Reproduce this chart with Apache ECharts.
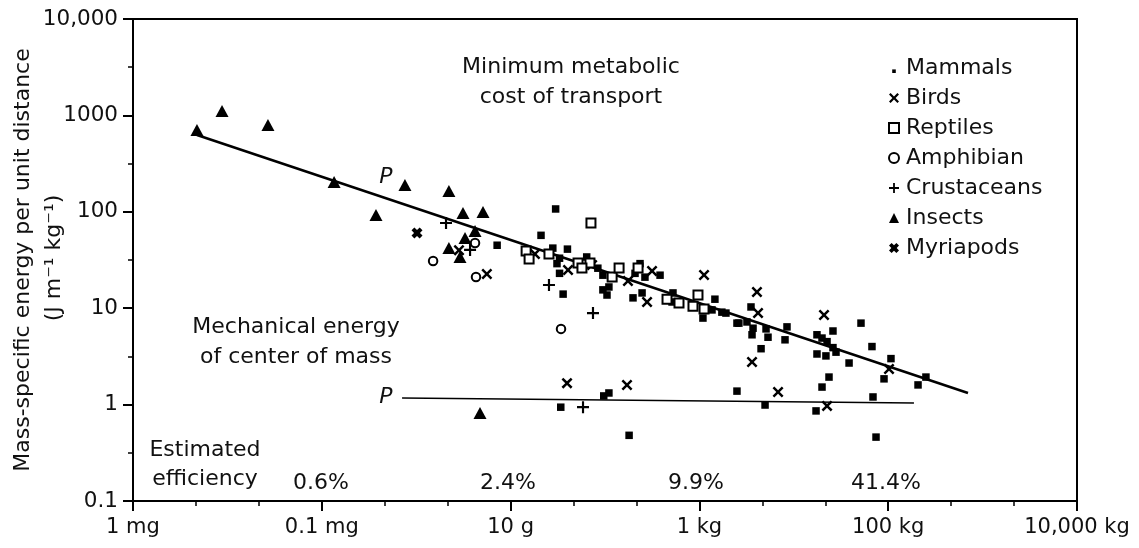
<!DOCTYPE html>
<html>
<head>
<meta charset="utf-8">
<script src="https://cdn.jsdelivr.net/npm/echarts@6/dist/echarts.min.js"></script>
<style>
  html, body { margin: 0; padding: 0; background: #fff; }
  #chart { width: 1139px; height: 548px; }
</style>
</head>
<body>
<div id="chart"></div>
<script>
// ---- DATA: [body mass in grams, energy in J m^-1 kg^-1] ----
const mammals = [
  [7.2,45],[30,107],[21,57],[28,42],[40,41],[33,33],[31,29],[33,23],[64,34],[84,26],
  [95,22],[95,15.5],[110,16.6],[105,13.7],[36,14],[208,23],[265,21],[235,29],[383,22],[247,14.4],
  [198,12.8],[513,11.6],[525,14.4],[1460,12.4],[1090,7.9],[1360,9.6],[1730,9.1],[1910,8.9],[2500,7.0],[3520,10.3],
  [2620,7.0],[3190,7.2],[3700,6.2],[3610,5.3],[5080,6.1],[5330,5.0],[8470,6.4],[8070,4.7],[4500,3.8],[17600,5.3],
  [19900,4.9],[22500,4.5],[26000,3.9],[17600,3.35],[21900,3.2],[26000,5.8],[51500,7.0],[28000,3.5],[67300,4.0],[38500,2.7],
  [107000,3.0],[90300,1.85],[251000,1.93],[207000,1.6],[69000,1.2],[74300,0.46],[23600,1.93],[19900,1.52],[17200,0.86],[4960,0.99],
  [2500,1.38],[180,0.48],[97,1.23],[110,1.32],[34,0.94]
];
const birds = [
  [2.84,40],[5.6,22.6],[18.1,36.5],[40.6,24.9],[73,28],[175,19.1],[315,24.3],[279,11.6],[1120,22.1],[4070,14.7],
  [4180,8.9],[3610,2.77],[20900,8.5],[102000,2.34],[39.6,1.67],[171,1.6],[6810,1.35],[22500,0.97]
];
const reptiles = [
  [71,76.5],[14.6,39.2],[15.7,32.4],[25.5,36.5],[51.8,29.4],[69.3,29.4],[57,26.1],[119,21.1],[141,26.1],[224,26.1],
  [454,12.4],[608,11.3],[966,13.7],[855,10.5],[1120,9.8]
];
const amphibians = [[1.51,30.9],[4.2,47.5],[4.3,21.1],[34.2,6.1]];
const crustaceans = [[2.07,76.5],[3.72,40.2],[25.5,17.4],[74.6,8.9],[58.5,0.94]];
const insects = [
  [0.00476,706],[0.00877,1111],[0.0269,795],[0.135,204],[0.375,92.7],[0.76,190],[2.22,164],[3.13,97.2],
  [5.1,99.5],[4.2,63.2],[3.29,53.5],[2.22,42.1],[2.91,34.0],[4.74,0.82]
];
const myriapods = [[1.02,60.3]];
const costLine = [[0.00476,627],[700000,1.32]];
const mechLine = [[0.708,1.17],[187500,1.04]];

const xTickLabels = ['1 mg','0.1 mg','10 g','1 kg','100 kg','10,000 kg'];
const yTickLabels = ['0.1','1','10','100','1000','10,000'];
const efficiencies = ['0.6%','2.4%','9.9%','41.4%'];

// ---- helpers ----
const FONT = '"DejaVu Sans", "Liberation Sans", sans-serif';
const INK = '#000';
const toXY = d => [Math.log10(d[0] * 1000), Math.log10(d[1])]; // x: log10(mg), y: log10(E)

const birdPath = 'path://M0,1.6L1.6,0L5,3.4L8.4,0L10,1.6L6.6,5L10,8.4L8.4,10L5,6.6L1.6,10L0,8.4L3.4,5Z';
const myriaPath = 'path://M0,2.6L2.6,0L5,2.3L7.4,0L10,2.6L7.7,5L10,7.4L7.4,10L5,7.7L2.6,10L0,7.4L2.3,5Z';
const plusPath = 'path://M4.1,0L5.9,0L5.9,4.1L10,4.1L10,5.9L5.9,5.9L5.9,10L4.1,10L4.1,5.9L0,5.9L0,4.1L4.1,4.1Z';
const dotIcon = 'path://M0,0M10,10M3.2,6.4L6.8,6.4L6.8,10L3.2,10Z';

const chart = echarts.init(document.getElementById('chart'), null, { renderer: 'canvas' });

function scatter(name, data, symbol, size, style) {
  return {
    name, type: 'scatter', data: data.map(toXY), symbol, symbolSize: size,
    itemStyle: Object.assign({ color: INK, opacity: 1 }, style || {}),
    emphasis: { disabled: true }, z: 3
  };
}

const texts = [];
function addText(text, x, y, size, extra) {
  texts.push(Object.assign({
    type: 'text', x, y, silent: true,
    style: { text, font: (extra && extra.italic ? 'italic ' : '') + size + 'px ' + FONT, fill: '#111',
             align: 'center', verticalAlign: 'middle', textAlign: 'center', textVerticalAlign: 'middle' }
  }, extra && extra.rotation ? { rotation: extra.rotation } : {}));
}
addText('Minimum metabolic', 571, 67, 22);
addText('cost of transport', 571, 97, 22);
addText('Mechanical energy', 296, 327, 22);
addText('of center of mass', 296, 357, 22);
addText('Estimated', 205, 450, 22);
addText('efficiency', 205, 479, 22);
const effX = [321, 508, 696, 886];
efficiencies.forEach((t, i) => addText(t, effX[i], 483, 22));
addText('P', 386, 177, 22, { italic: true });
addText('P', 386, 397, 22, { italic: true });
addText('Mass-specific energy per unit distance', 23, 260, 22, { rotation: Math.PI / 2 });
addText('(J m\u207B\u00B9 kg\u207B\u00B9)', 54, 258, 22, { rotation: Math.PI / 2 });

const option = {
  animation: false,
  backgroundColor: '#fff',
  textStyle: { fontFamily: FONT, color: '#111' },
  grid: { left: 133, right: 62, top: 19, bottom: 47, show: true, borderColor: INK, borderWidth: 2, backgroundColor: 'transparent' },
  xAxis: {
    type: 'value', min: 0, max: 10, interval: 2,
    axisLine: { show: true, onZero: false, lineStyle: { color: INK, width: 2 } },
    axisTick: { show: true, length: 10, lineStyle: { color: INK, width: 2 } },
    minorTick: { show: true, splitNumber: 3, length: 5, lineStyle: { color: INK, width: 1.5 } },
    splitLine: { show: false }, minorSplitLine: { show: false },
    axisLabel: { fontSize: 21, fontFamily: FONT, color: '#111', margin: 16, showMinLabel: true, showMaxLabel: true,
                 formatter: v => xTickLabels[Math.round(v / 2)] }
  },
  yAxis: {
    type: 'value', min: -1, max: 4, interval: 1,
    axisLine: { show: true, onZero: false, lineStyle: { color: INK, width: 2 } },
    axisTick: { show: true, length: 10, lineStyle: { color: INK, width: 2 } },
    minorTick: { show: true, splitNumber: 2, length: 5, lineStyle: { color: INK, width: 1.5 } },
    splitLine: { show: false }, minorSplitLine: { show: false },
    axisLabel: { fontSize: 21.5, fontFamily: FONT, color: '#111', margin: 15, showMinLabel: true, showMaxLabel: true,
                 formatter: v => yTickLabels[Math.round(v) + 1] }
  },
  legend: {
    orient: 'vertical', left: 883, top: 48, itemWidth: 10, itemHeight: 10, itemGap: 0,
    textStyle: { fontSize: 22, fontFamily: FONT, color: '#111', lineHeight: 30, padding: [0, 0, 0, 2] },
    selectedMode: false,
    data: [
      { name: 'Mammals', icon: dotIcon },
      { name: 'Birds', icon: birdPath },
      { name: 'Reptiles' },
      { name: 'Amphibian' },
      { name: 'Crustaceans', icon: plusPath },
      { name: 'Insects' },
      { name: 'Myriapods', icon: myriaPath }
    ]
  },
  graphic: { elements: texts },
  series: [
    { name: 'cost', type: 'line', data: costLine.map(toXY), symbol: 'none', silent: true, z: 2,
      lineStyle: { color: INK, width: 2.5 } },
    { name: 'mech', type: 'line', data: mechLine.map(toXY), symbol: 'none', silent: true, z: 2,
      lineStyle: { color: INK, width: 1.6 } },
    scatter('Mammals', mammals, 'rect', 7.5),
    scatter('Birds', birds, birdPath, 11),
    scatter('Reptiles', reptiles, 'rect', 9, { color: '#fff', borderColor: INK, borderWidth: 2 }),
    scatter('Amphibian', amphibians, 'circle', 8.5, { color: '#fff', borderColor: INK, borderWidth: 2 }),
    scatter('Crustaceans', crustaceans, plusPath, 12),
    scatter('Insects', insects, 'triangle', [13, 12]),
    scatter('Myriapods', myriapods, myriaPath, 11)
  ]
};
chart.setOption(option);
</script>
</body>
</html>
